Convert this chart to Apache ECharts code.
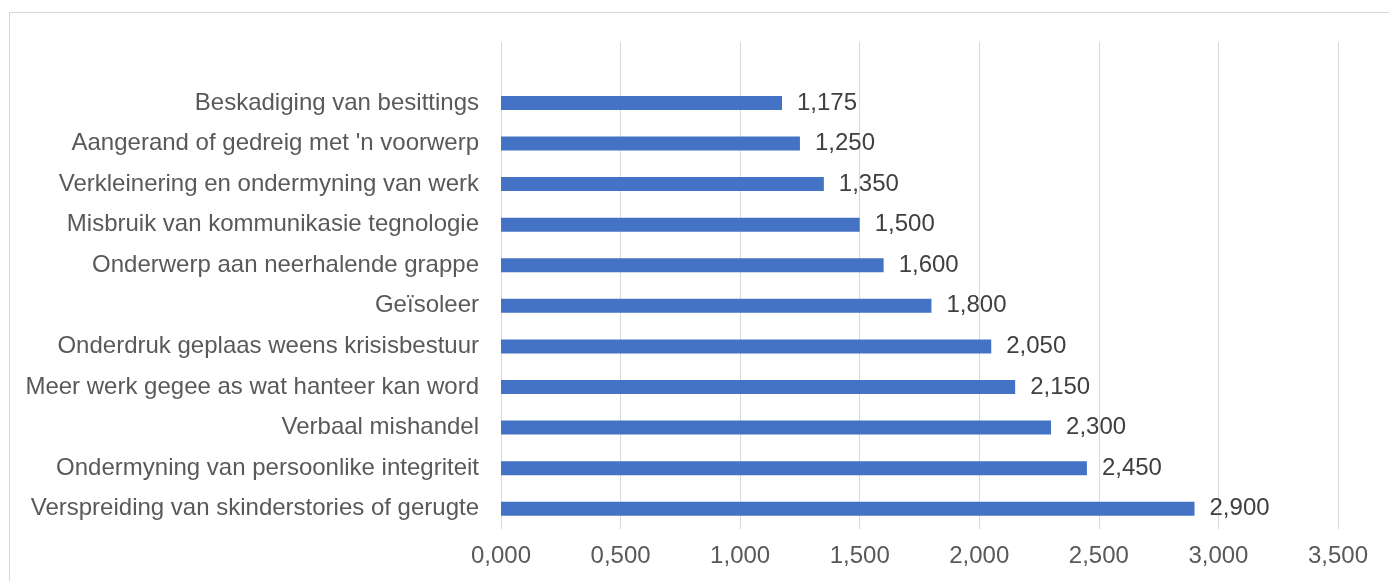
<!DOCTYPE html>
<html>
<head>
<meta charset="utf-8">
<script src="https://cdn.jsdelivr.net/npm/echarts@6/dist/echarts.min.js"></script>
<style>
html,body{margin:0;padding:0;background:#fff;width:1389px;height:581px;overflow:hidden;}
#frame{position:absolute;left:9px;top:12px;width:1500px;height:700px;border:1px solid #d9d9d9;box-sizing:border-box;}
#chart{position:absolute;left:0;top:0;width:1389px;height:581px;}
</style>
</head>
<body>
<div id="frame"></div>
<div id="chart"></div>
<script>
// Categories listed bottom to top (the last empty slot is the blank space above the top bar)
const categories = [
  "Verspreiding van skinderstories of gerugte",
  "Ondermyning van persoonlike integriteit",
  "Verbaal mishandel",
  "Meer werk gegee as wat hanteer kan word",
  "Onderdruk geplaas weens krisisbestuur",
  "Geïsoleer",
  "Onderwerp aan neerhalende grappe",
  "Misbruik van kommunikasie tegnologie",
  "Verkleinering en ondermyning van werk",
  "Aangerand of gedreig met 'n voorwerp",
  "Beskadiging van besittings",
  ""
];
const values = [2.900, 2.450, 2.300, 2.150, 2.050, 1.800, 1.600, 1.500, 1.350, 1.250, 1.175, null];
const axisMin = 0, axisMax = 3.5, axisInterval = 0.5;

function fmt(v){ return Number(v).toFixed(3).replace('.', ','); }

const chart = echarts.init(document.getElementById('chart'), null, {renderer:'canvas'});
chart.setOption({
  animation:false,
  backgroundColor:'transparent',
  textStyle:{fontFamily:'"Liberation Sans", Arial, sans-serif'},
  grid:{left:501, right:51, top:42, bottom:52, containLabel:false},
  xAxis:{
    type:'value', min:axisMin, max:axisMax, interval:axisInterval,
    axisLine:{show:false}, axisTick:{show:false},
    splitLine:{show:true, lineStyle:{color:'#d9d9d9', width:1}},
    axisLabel:{formatter:fmt, color:'#595959', fontSize:24, margin:15,
      fontFamily:'"Liberation Sans", Arial, sans-serif'}
  },
  yAxis:{
    type:'category', data:categories,
    axisLine:{show:false}, axisTick:{show:false}, splitLine:{show:false},
    axisLabel:{color:'#595959', fontSize:24, margin:22,
      fontFamily:'"Liberation Sans", Arial, sans-serif'}
  },
  series:[{
    type:'bar', data:values, barWidth:14,
    itemStyle:{color:'#4472C4'},
    label:{show:true, position:'right', distance:15, color:'#404040', fontSize:24,
      fontFamily:'"Liberation Sans", Arial, sans-serif',
      formatter:p => p.value == null ? '' : fmt(p.value)}
  }]
});
</script>
</body>
</html>
